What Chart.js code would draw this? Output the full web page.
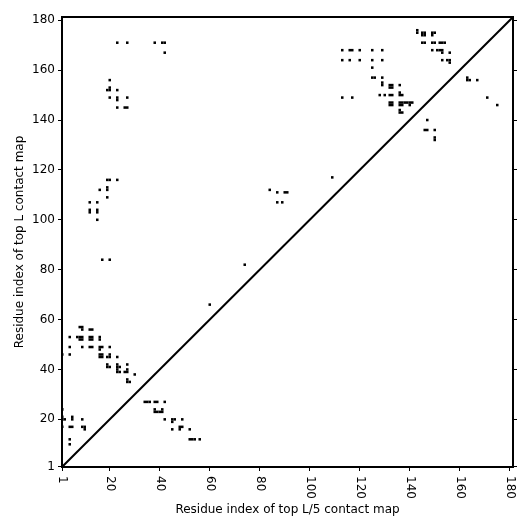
<!DOCTYPE html>
<html><head><meta charset="utf-8">
<script src="https://cdn.jsdelivr.net/npm/chart.js@4.4.0/dist/chart.umd.min.js"></script>
<style>html,body{margin:0;padding:0;background:#fff}#wrap{width:531px;height:531px}</style>
</head><body><div id="wrap"><canvas id="c" width="531" height="531"></canvas></div>
<script>
const tickValues = [1,20,40,60,80,100,120,140,160,180];
const axisMin = 0.9;
const axisMax = 181.3;
const diagonalEnds = [0.9, 181.3];
const xTitle = 'Residue index of top L/5 contact map';
const yTitle = 'Residue index of top L contact map';

// contacts above the diagonal (top L contact map)
const upperContacts = [
  [1,24],[1,21],[1,20],[2,20],[5,21],[5,20],[9,20],[1,17],[4,17],[5,17],[9,17],[10,17],[10,16],[4,12],[4,10],
  [8,57],[9,57],[9,56],[12,56],[13,56],[4,53],[7,53],[8,53],[9,53],[8,52],[9,52],[12,53],[13,53],[12,52],[13,52],
  [16,53],[16,52],[4,49],[9,49],[12,49],[13,49],[16,49],[17,49],[16,48],[20,49],[1,46],[4,46],
  [16,46],[17,46],[16,45],[17,45],[19,45],[20,45],[20,46],[23,45],[19,42],[19,41],[20,41],[23,42],[23,41],[24,41],
  [27,42],[23,40],[23,39],[24,39],[26,39],[27,39],[27,40],[30,38],[27,35],[28,35],[27,36],
  [19,116],[20,116],[23,116],[16,112],[19,113],[19,112],[19,109],[12,107],[15,107],[12,104],[12,103],[15,104],[15,103],[15,100],
  [17,84],[20,84],
  [20,156],[19,152],[20,152],[20,153],[23,152],[20,149],[23,149],[23,148],[27,149],[23,145],[26,145],[27,145],
  [23,171],[27,171],[38,171],[41,171],[42,171],[42,167],
  [60,66],[74,82],[84,112],[87,111],[90,111],[91,111],[87,107],[89,107],[109,117],
  [113,168],[116,168],[117,168],[120,168],[125,168],[129,168],[113,164],[116,164],[120,164],[125,164],[129,164],
  [113,149],[117,149],[125,161],[125,157],[126,157],[129,157],[129,155],[129,154],
  [132,154],[133,154],[132,153],[133,153],[136,154],[128,150],[130,150],[132,150],[133,150],[136,151],[136,150],[137,150],
  [132,147],[133,147],[132,146],[133,146],[136,147],[137,147],[138,147],[139,147],[140,147],[141,147],[136,146],[137,146],[140,146],
  [136,144],[136,143],[137,143],
  [143,176],[143,175],[145,175],[146,175],[145,174],[146,174],[149,175],[150,175],[149,174],
  [145,171],[146,171],[149,171],[150,171],[152,171],[153,171],[154,171],
  [149,168],[151,168],[152,168],[153,168],[153,167],[156,167],[153,164],[155,164],[156,164],[156,163]
];

// contacts below the diagonal (top L/5 contact map)
const lowerContacts = [
  [163,156],[164,156],[163,157],[167,156],[171,149],[175,146],[147,140],[146,136],[147,136],[150,136],[150,133],[150,132],
  [34,27],[35,27],[36,27],[38,27],[39,27],[42,27],[38,24],[38,23],[39,23],[40,23],[41,23],[41,24],
  [42,20],[45,20],[46,20],[45,19],[49,20],[45,16],[48,17],[49,17],[48,16],[52,16],[52,12],[53,12],[54,12],[56,12]
];

const FONT = "'DejaVu Sans', sans-serif";
const toPts = arr => arr.map(p => ({x: p[0], y: p[1]}));
const setTicks = s => { s.ticks = tickValues.map(v => ({value: v})); };
const gridOpts = {drawOnChartArea: false, drawTicks: true, tickLength: 4, color: '#000', lineWidth: 1};

const framePlugin = {
  id: 'frame',
  afterDraw(chart) {
    const {ctx, chartArea: a, scales} = chart;
    ctx.save();
    ctx.strokeStyle = '#000';
    ctx.lineWidth = 2;
    ctx.strokeRect(a.left, a.top, a.right - a.left, a.bottom - a.top);
    ctx.fillStyle = '#000';
    ctx.font = '12px ' + FONT;
    ctx.textAlign = 'left';
    ctx.textBaseline = 'middle';
    tickValues.forEach(v => {
      const px = scales.x.getPixelForValue(v);
      ctx.save();
      ctx.translate(px, a.bottom + 9);
      ctx.rotate(Math.PI / 2);
      ctx.fillText(String(v), 0, 0);
      ctx.restore();
    });
    ctx.restore();
  }
};

new Chart(document.getElementById('c'), {
  type: 'scatter',
  data: {
    datasets: [
      {label: 'upper', data: toPts(upperContacts), pointStyle: 'rect', pointRadius: 1.8, pointHoverRadius: 1.8,
       backgroundColor: '#000', borderWidth: 0},
      {label: 'lower', data: toPts(lowerContacts), pointStyle: 'rect', pointRadius: 1.8, pointHoverRadius: 1.8,
       backgroundColor: '#000', borderWidth: 0},
      {type: 'line', label: 'diag', data: diagonalEnds.map(v => ({x: v, y: v})), borderColor: '#000',
       borderWidth: 2, pointRadius: 0, fill: false, tension: 0}
    ]
  },
  options: {
    responsive: false,
    animation: false,
    devicePixelRatio: 1,
    layout: {padding: {top: 17, right: 0, left: 0, bottom: 0}},
    plugins: {legend: {display: false}, tooltip: {enabled: false}},
    scales: {
      x: {
        type: 'linear', position: 'bottom', min: axisMin, max: axisMax,
        afterBuildTicks: setTicks,
        afterFit: s => { s.height = 64; },
        ticks: {display: false},
        grid: gridOpts,
        border: {display: true, color: '#000', width: 2},
        title: {display: true, text: xTitle, color: '#000', font: {family: FONT, size: 12}, padding: {top: 0, bottom: 14}}
      },
      y: {
        type: 'linear', position: 'left', min: axisMin, max: axisMax,
        afterBuildTicks: setTicks,
        afterFit: s => { s.width = 62; },
        ticks: {color: '#000', font: {family: FONT, size: 12}, padding: 3, autoSkip: false},
        grid: gridOpts,
        border: {display: true, color: '#000', width: 2},
        title: {display: true, text: yTitle, color: '#000', font: {family: FONT, size: 12}, padding: {top: 13, bottom: 0}}
      },
      y2: {
        type: 'linear', position: 'right', min: axisMin, max: axisMax,
        afterBuildTicks: setTicks,
        afterFit: s => { s.width = 18; },
        ticks: {display: false},
        grid: gridOpts,
        border: {display: true, color: '#000', width: 2}
      }
    }
  },
  plugins: [framePlugin]
});
</script>
</body></html>
